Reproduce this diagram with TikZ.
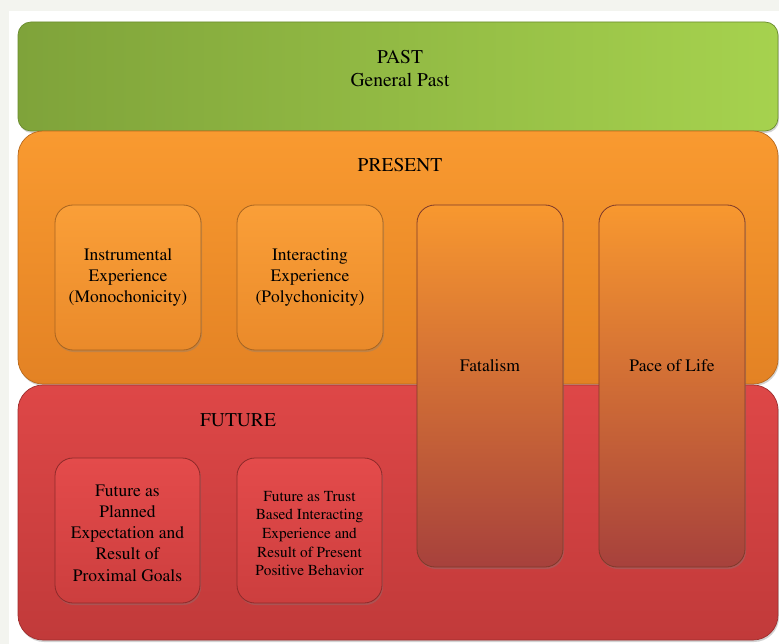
\documentclass[tikz,border=0pt]{standalone}
\usepackage[T1]{fontenc}
\usepackage{times}
\usetikzlibrary{shadows}
\definecolor{bggray}{HTML}{F3F4EF}
\definecolor{grnL}{HTML}{7FA33A}
\definecolor{grnR}{HTML}{A6D24E}
\definecolor{grnD}{HTML}{6A8C2E}
\definecolor{orT}{HTML}{F99A30}
\definecolor{orB}{HTML}{E38224}
\definecolor{orD}{HTML}{B86A1E}
\definecolor{rdT}{HTML}{DE4747}
\definecolor{rdB}{HTML}{C13A3A}
\definecolor{rdD}{HTML}{9E2E2E}
\definecolor{inT}{HTML}{FA9F38}
\definecolor{inB}{HTML}{EA8A2A}
\definecolor{inD}{HTML}{A86420}
\definecolor{riT}{HTML}{E44B4B}
\definecolor{riB}{HTML}{CC3E3E}
\definecolor{riD}{HTML}{8E2A2A}
\definecolor{tlT}{HTML}{F8982F}
\definecolor{tlB}{HTML}{A7413C}
\definecolor{tlD}{HTML}{7E3A2A}
\tikzset{
  bigbox/.style={rectangle, inner sep=0pt, rounded corners=25pt, line width=0.7pt,
    drop shadow={shadow xshift=1pt, shadow yshift=-2pt, opacity=0.35}},
  smallbox/.style={rectangle, inner sep=0pt, rounded corners=18pt, line width=0.8pt,
    minimum width=146pt, minimum height=145pt,
    drop shadow={shadow xshift=1pt, shadow yshift=-2pt, opacity=0.35}},
  bigtext/.style={inner sep=0pt, align=center, font=\fontsize{19.5}{23}\selectfont},
  innertext/.style={inner sep=0pt, align=center, font=\fontsize{17.5}{21.3}\selectfont},
  smalltext/.style={inner sep=0pt, align=center, font=\fontsize{15.3}{18.6}\selectfont}
}
\begin{document}
\begin{tikzpicture}[x=1pt,y=-1pt]
\useasboundingbox (0,0) rectangle (779,644);
\fill[bggray] (0,0) rectangle (779,644);
\fill[white] (9,11) rectangle (779,644);

% big bands
\node[bigbox, rounded corners=13pt, draw=grnD, left color=grnL, right color=grnR,
  minimum width=760pt, minimum height=109pt] (past) at (398,76.5) {};
\node[bigbox, draw=orD, top color=orT, bottom color=orB,
  minimum width=760pt, minimum height=253pt] (present) at (398,257.5) {};
\node[bigbox, draw=rdD, top color=rdT, bottom color=rdB,
  minimum width=760pt, minimum height=255pt] (future) at (398,512.5) {};

\node[bigtext] (pastT) at (400,68.5) {PAST\\General Past};
\node[bigtext] (presentT) at (400,165) {PRESENT};
\node[bigtext] (futureT) at (238,420) {FUTURE};

% present boxes
\node[smallbox, draw=inD, top color=inT, bottom color=inB] (instr) at (128,277.5) {};
\node[smallbox, draw=inD, top color=inT, bottom color=inB] (inter) at (310,277.5) {};
\node[innertext] (instrT) at (128,277.5) {Instrumental\\Experience\\(Monochonicity)};
\node[innertext] (interT) at (310,277.5) {Interacting\\Experience\\(Polychonicity)};

% tall boxes
\node[smallbox, minimum height=362pt, draw=tlD, top color=tlT, bottom color=tlB] (fatal) at (490,386) {};
\node[smallbox, minimum height=362pt, draw=tlD, top color=tlT, bottom color=tlB] (pace) at (672,386) {};
\node[innertext] (fatalT) at (490,366) {Fatalism};
\node[innertext] (paceT) at (672,366) {Pace of Life};

% future boxes
\node[smallbox, minimum width=145pt, draw=riD, top color=riT, bottom color=riB] (plan) at (127.5,530.5) {};
\node[smallbox, minimum width=145pt, draw=riD, top color=riT, bottom color=riB] (trust) at (309.5,530.5) {};
\node[innertext] (planT) at (127.5,533) {Future as\\Planned\\Expectation and\\Result of\\Proximal Goals};
\node[smalltext] (trustT) at (309.5,533.5) {Future as Trust\\Based Interacting\\Experience and\\Result of Present\\Positive Behavior};
\end{tikzpicture}
\end{document}
